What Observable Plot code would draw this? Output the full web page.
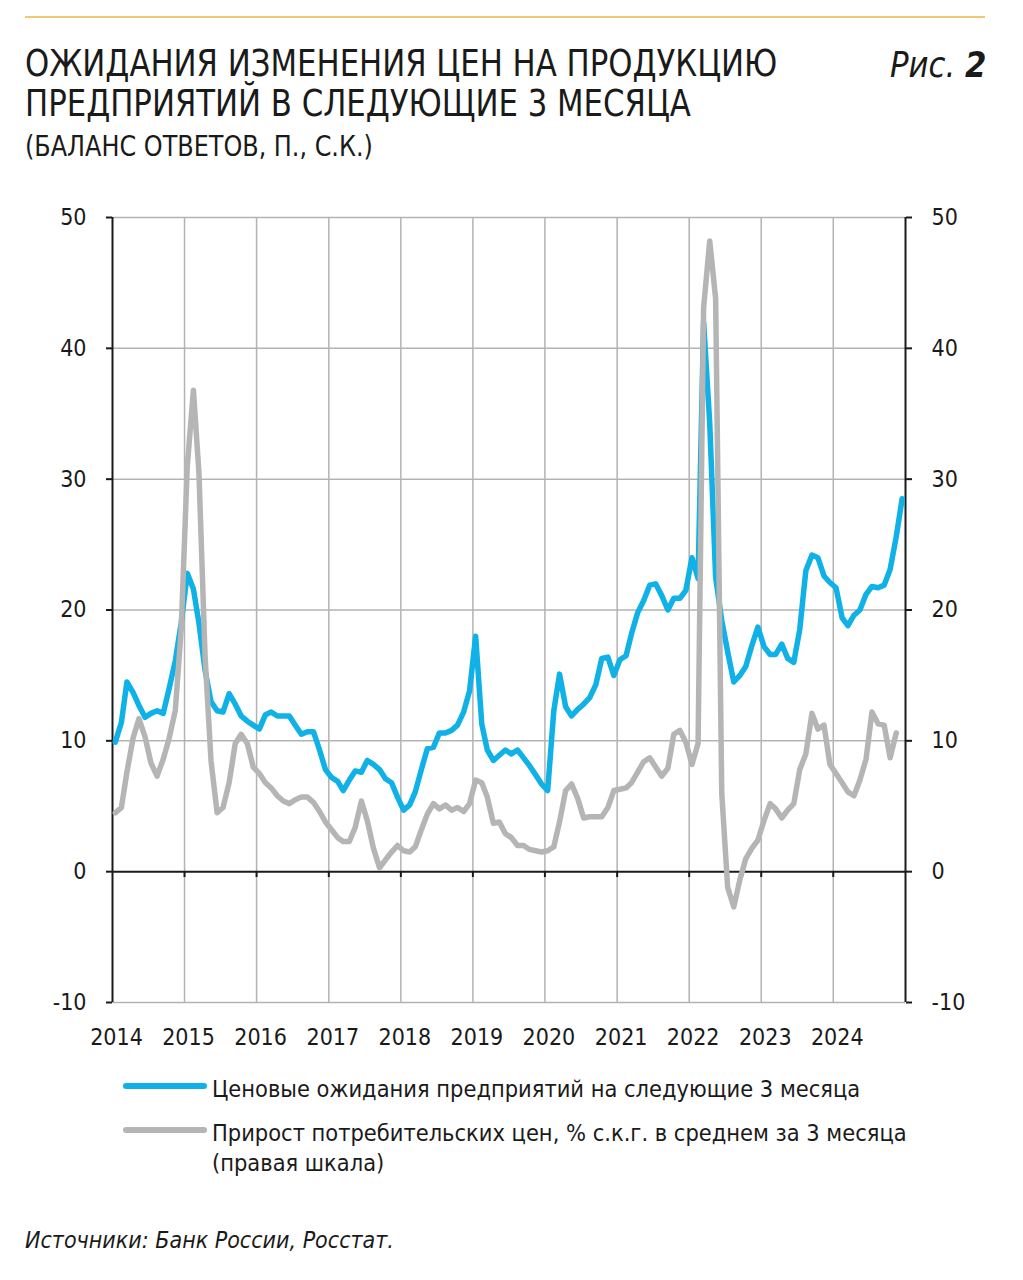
<!DOCTYPE html>
<html>
<head>
<meta charset="utf-8">
<script src="https://cdn.jsdelivr.net/npm/d3@7"></script>
<script src="https://cdn.jsdelivr.net/npm/@observablehq/plot@0.6"></script>
<style>
  html, body { margin: 0; padding: 0; background: #fff; }
  body { width: 1023px; height: 1280px; position: relative; overflow: hidden;
         font-family: "DejaVu Sans Condensed", "DejaVu Sans", sans-serif; color: #1a1a1a; }
  .abs { position: absolute; white-space: nowrap; }
  #topline { left: 25px; top: 16px; width: 960px; height: 2px; background: #f3c875; }
  .title { left: 25px; font-size: 38px; line-height: 38px; transform: scaleX(0.9); transform-origin: 0 0; }
  #fig { left: 890px; top: 44px; font-size: 36px; font-style: italic; transform: scaleX(0.95); transform-origin: 0 0; }
  #sub { left: 25px; top: 130px; font-size: 28px; transform: scaleX(0.95); transform-origin: 0 0; }
  #chart { left: 0; top: 190px; }
  .leg { font-size: 23.4px; }
  .sw { position: absolute; height: 6px; border-radius: 3px; width: 84px; left: 123px; }
  #cap { left: 25px; top: 1227px; font-size: 23px; font-style: italic; }
</style>
</head>
<body>
<div id="topline" class="abs"></div>
<div class="abs title" style="top:44px">ОЖИДАНИЯ ИЗМЕНЕНИЯ ЦЕН НА ПРОДУКЦИЮ</div>
<div class="abs title" style="top:84px">ПРЕДПРИЯТИЙ В СЛЕДУЮЩИЕ 3 МЕСЯЦА</div>
<div id="fig" class="abs">Рис. <b>2</b></div>
<div id="sub" class="abs">(БАЛАНС ОТВЕТОВ, П., С.К.)</div>
<div id="chart" class="abs"></div>
<div class="sw" style="top:1083px;background:#0fb1e6"></div>
<div class="abs leg" style="left:212px;top:1075px">Ценовые ожидания предприятий на следующие 3 месяца</div>
<div class="sw" style="top:1127px;background:#b5b5b5"></div>
<div class="abs leg" style="left:212px;top:1119px">Прирост потребительских цен, % с.к.г. в среднем за 3 месяца</div>
<div class="abs leg" style="left:212px;top:1149px">(правая шкала)</div>
<div id="cap" class="abs">Источники: Банк России, Росстат.</div>

<script>
// Monthly values, Jan 2014 onward
const expectations = [
  // 2014
  9.9, 11.4, 14.5, 13.7, 12.7, 11.8, 12.1, 12.3, 12.1, 14.0, 16.1, 19.0,
  // 2015
  22.8, 21.6, 19.0, 15.4, 13.0, 12.3, 12.2, 13.6, 12.8, 11.9, 11.5, 11.2,
  // 2016
  10.9, 12.0, 12.2, 11.9, 11.9, 11.9, 11.2, 10.5, 10.7, 10.7, 9.3, 7.8,
  // 2017
  7.2, 6.9, 6.2, 7.0, 7.7, 7.6, 8.5, 8.2, 7.8, 7.1, 6.8, 5.7,
  // 2018
  4.7, 5.1, 6.1, 7.8, 9.4, 9.5, 10.6, 10.6, 10.8, 11.2, 12.2, 13.8,
  // 2019
  18.0, 11.3, 9.3, 8.5, 8.9, 9.3, 9.0, 9.3, 8.7, 8.1, 7.4, 6.7,
  // 2020
  6.2, 12.3, 15.1, 12.6, 11.9, 12.4, 12.8, 13.3, 14.3, 16.3, 16.4, 15.0,
  // 2021
  16.2, 16.5, 18.2, 19.8, 20.7, 21.9, 22.0, 21.1, 20.0, 20.9, 20.9, 21.5,
  // 2022
  24.0, 22.4, 42.0, 34.3, 22.5, 19.2, 16.8, 14.5, 15.0, 15.7, 17.3, 18.7,
  // 2023
  17.2, 16.6, 16.6, 17.4, 16.3, 16.0, 18.5, 23.0, 24.2, 24.0, 22.6, 22.1,
  // 2024
  21.7, 19.4, 18.8, 19.6, 20.0, 21.2, 21.8, 21.7, 21.9, 23.1, 25.6, 28.5
];
const cpi = [
  // 2014
  4.5, 4.9, 7.6, 10.2, 11.7, 10.3, 8.3, 7.3, 8.6, 10.2, 12.3, 18.5,
  // 2015
  31.0, 36.8, 30.5, 16.5, 8.5, 4.5, 4.9, 6.8, 9.8, 10.5, 9.8, 8.0,
  // 2016
  7.5, 6.8, 6.4, 5.8, 5.4, 5.2, 5.5, 5.7, 5.7, 5.3, 4.6, 3.8,
  // 2017
  3.2, 2.6, 2.3, 2.3, 3.4, 5.4, 3.9, 1.8, 0.3, 0.9, 1.5, 2.0,
  // 2018
  1.6, 1.5, 1.9, 3.2, 4.4, 5.2, 4.8, 5.1, 4.7, 4.9, 4.6, 5.2,
  // 2019
  7.0, 6.8, 5.7, 3.7, 3.8, 2.9, 2.6, 2.0, 2.0, 1.7, 1.6, 1.5,
  // 2020
  1.6, 1.9, 3.8, 6.2, 6.7, 5.6, 4.1, 4.2, 4.2, 4.2, 4.9, 6.2,
  // 2021
  6.3, 6.4, 6.8, 7.6, 8.4, 8.7, 8.0, 7.3, 7.9, 10.5, 10.8, 9.9,
  // 2022
  8.2, 9.8, 43.1, 48.2, 43.8, 6.0, -1.2, -2.7, -0.6, 1.0, 1.8, 2.4,
  // 2023
  3.9, 5.2, 4.8, 4.1, 4.7, 5.2, 7.8, 9.0, 12.1, 10.9, 11.2, 8.2,
  // 2024
  7.5, 6.8, 6.1, 5.8, 7.0, 8.6, 12.2, 11.3, 11.2, 8.7, 10.6
];
const yearLabels = [2014, 2015, 2016, 2017, 2018, 2019, 2020, 2021, 2022, 2023, 2024];
const yTicks = [-10, 0, 10, 20, 30, 40, 50];

const BLUE = "#0fb1e6", GREY = "#b5b5b5", GRID = "#b3b3b3", AXIS = "#1a1a1a";
const monthDate = i => new Date(Date.UTC(2014, i, 15));
const blueData = expectations.map((v, i) => ({date: monthDate(i), v}));
const greyData = cpi.map((v, i) => ({date: monthDate(i), v}));
const yearDates = yearLabels.map(y => new Date(Date.UTC(y, 0, 1)));
const innerYears = yearDates.slice(1);
const edges = [new Date(Date.UTC(2014, 0, 1)), new Date(Date.UTC(2025, 0, 1))];

const chart = Plot.plot({
  width: 1023,
  height: 870,
  marginTop: 27,
  marginBottom: 58,
  marginLeft: 112,
  marginRight: 118,
  style: {fontFamily: '"DejaVu Sans Condensed", "DejaVu Sans", sans-serif', fontSize: "23px", color: AXIS, background: "transparent"},
  x: {type: "utc", domain: edges},
  y: {domain: [-10, 50]},
  marks: [
    Plot.gridX(innerYears, {stroke: GRID, strokeOpacity: 1, strokeWidth: 1.5}),
    Plot.gridY(yTicks.filter(t => t !== 0), {stroke: GRID, strokeOpacity: 1, strokeWidth: 1.5}),
    Plot.ruleX(edges, {stroke: AXIS, strokeWidth: 2}),
    Plot.ruleY([0], {stroke: AXIS, strokeWidth: 2}),
    Plot.ruleX(innerYears, {x: d => d, y1: 0, y2: -0.45, stroke: AXIS, strokeWidth: 2}),
    Plot.axisY(yTicks, {anchor: "left", tickSize: 6, tickPadding: 20, stroke: AXIS, strokeWidth: 2, label: null, fill: AXIS, tickFormat: d => String(d)}),
    Plot.axisY(yTicks, {anchor: "right", tickSize: 6, tickPadding: 20, stroke: AXIS, strokeWidth: 2, label: null, fill: AXIS, tickFormat: d => String(d)}),
    Plot.axisX(yearDates, {anchor: "bottom", tickSize: 0, tickPadding: 26, tickFormat: d => String(d.getUTCFullYear()), label: null, fill: AXIS, dx: 4}),
    Plot.line(blueData, {x: "date", y: "v", stroke: BLUE, strokeWidth: 5.5}),
    Plot.line(greyData, {x: "date", y: "v", stroke: GREY, strokeWidth: 5.5})
  ]
});
document.getElementById("chart").appendChild(chart);
</script>
</body>
</html>
